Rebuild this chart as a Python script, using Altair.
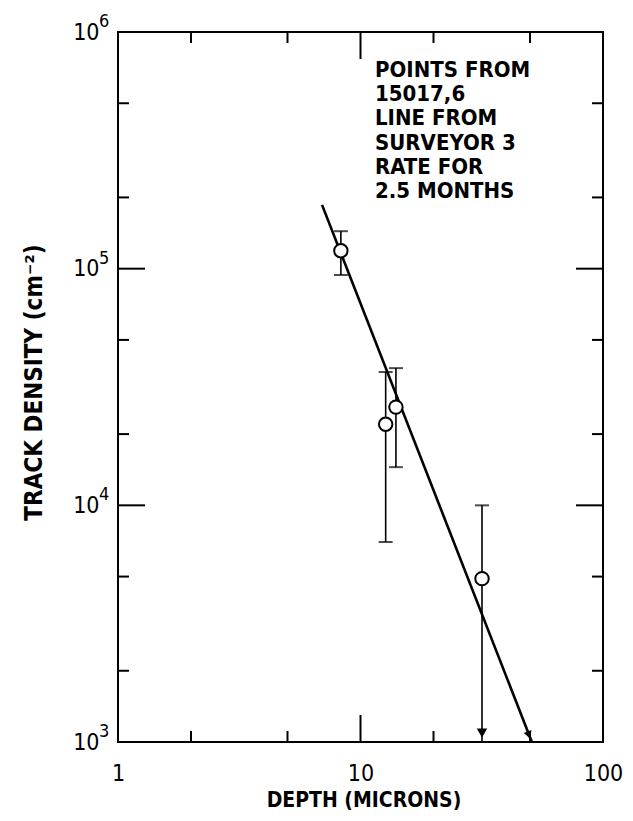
import altair as alt
import pandas as pd

# ---- data ----
depth = [8.3, 12.7, 14.0, 31.7]
density = [1.19e5, 2.2e4, 2.6e4, 4.9e3]
err_hi = [1.44e5, 3.66e4, 3.8e4, 1.0e4]
err_lo = [9.4e4, 7.0e3, 1.45e4, 1.0e3]
upper_limit = [False, False, False, True]

line_depth = [6.94, 50.9]
line_density = [1.86e5, 1.0e3]

x_major = [1, 10, 100]
x_minor = [2, 5, 20, 50]
y_major = [1e3, 1e4, 1e5, 1e6]
y_minor = [2e3, 5e3, 2e4, 5e4, 2e5, 5e5]
y_exponents = ["3", "4", "5", "6"]

note_lines = ["POINTS FROM", "15017,6", "LINE FROM", "SURVEYOR 3", "RATE FOR", "2.5 MONTHS"]

# ---- layout / style ----
W, H = 485, 710
FONT = "DejaVu Sans Condensed, Liberation Sans Narrow, DejaVu Sans"
MAJ, MIN = 27, 11

xs = alt.Scale(type="log", domain=[1, 100], nice=False)
ys = alt.Scale(type="log", domain=[1e3, 1e6], nice=False)

xaxis = alt.Axis(
    values=x_major, labelExpr="format(datum.value, 'd')", ticks=False, tickSize=0,
    domain=False, grid=False, labelPadding=20, labelFontSize=23, labelFont=FONT,
    labelColor="black", labelFlush=False, labelOverlap=False, labelBaseline="top",
    title="DEPTH (MICRONS)", titleFont=FONT, titleFontSize=21, titleFontWeight="bold",
    titleColor="black", titleX=W / 2 + 3, titleY=58, titleBaseline="middle", titleAlign="center",
)
yaxis = alt.Axis(
    values=y_major, labelExpr="'10'", ticks=False, tickSize=0, domain=False, grid=False,
    labelPadding=19, labelFontSize=23, labelFont=FONT, labelColor="black",
    labelFlush=False, labelOverlap=False, labelBaseline="middle",
    title="TRACK DENSITY (cm⁻²)", titleFont=FONT, titleFontSize=24, titleFontWeight="bold",
    titleColor="black", titleAngle=270, titleX=-84, titleY=350,
    titleBaseline="middle", titleAlign="center",
)


def X(field):
    return alt.X(field, scale=xs, axis=xaxis)


def Y(field):
    return alt.Y(field, scale=ys, axis=yaxis)


pts = pd.DataFrame({"depth": depth, "density": density, "hi": err_hi, "lo": err_lo,
                    "limit": upper_limit})

errbars = alt.Chart(pts).mark_rule(color="black", strokeWidth=1.6).encode(
    x=X("depth:Q"), y=Y("lo:Q"), y2="hi:Q",
)

caps_df = pd.DataFrame({
    "depth": depth + [d for d, l in zip(depth, upper_limit) if not l],
    "density": err_hi + [v for v, l in zip(err_lo, upper_limit) if not l],
})
caps = alt.Chart(caps_df).mark_tick(orient="horizontal", color="black", thickness=2, size=14).encode(
    x=X("depth:Q"), y=Y("density:Q"),
)

fit = alt.Chart(pd.DataFrame({"depth": line_depth, "density": line_density})).mark_line(
    color="black", strokeWidth=2.6).encode(x=X("depth:Q"), y=Y("density:Q"))

limit_df = pd.DataFrame({"depth": [d for d, l in zip(depth, upper_limit) if l],
                         "density": [v for v, l in zip(err_lo, upper_limit) if l]})
limit_arrow = alt.Chart(limit_df).mark_point(
    shape="triangle-down", filled=True, color="black", size=110, opacity=1, yOffset=-9).encode(
    x=X("depth:Q"), y=Y("density:Q"))

fit_end = alt.Chart(pd.DataFrame({"depth": line_depth[-1:], "density": line_density[-1:]})).mark_point(
    shape="triangle-down", filled=True, color="black", size=70, opacity=1,
    angle=339, yOffset=-7, xOffset=-3).encode(x=X("depth:Q"), y=Y("density:Q"))

points = alt.Chart(pts).mark_point(
    shape="circle", filled=True, fill="white", stroke="black", strokeWidth=2,
    size=180, opacity=1).encode(x=X("depth:Q"), y=Y("density:Q"))


def xticks(vals, length):
    df = pd.DataFrame({"depth": vals})
    base = alt.Chart(df).mark_rule(color="black", strokeWidth=2)
    bottom = base.encode(x=X("depth:Q"), y=alt.value(H), y2=alt.value(H - length))
    top = base.encode(x=X("depth:Q"), y=alt.value(0), y2=alt.value(length))
    return [bottom, top]


def yticks(vals, length):
    df = pd.DataFrame({"density": vals})
    base = alt.Chart(df).mark_rule(color="black", strokeWidth=2)
    left = base.encode(y=Y("density:Q"), x=alt.value(0), x2=alt.value(length))
    right = base.encode(y=Y("density:Q"), x=alt.value(W), x2=alt.value(W - length))
    return [left, right]


tick_layers = (xticks(x_major, MAJ) + xticks(x_minor, MIN)
               + yticks(y_major, MAJ) + yticks(y_minor, MIN))

expo = alt.Chart(pd.DataFrame({"density": y_major, "e": y_exponents})).mark_text(
    align="left", baseline="middle", dy=-10, fontSize=18, font=FONT, color="black").encode(
    y=Y("density:Q"), x=alt.value(-19), text="e:N",
)

note = alt.Chart(pd.DataFrame({"a": [0]})).mark_text(
    align="left", baseline="alphabetic", fontSize=22, fontWeight="bold", font=FONT,
    lineHeight=24.2, color="black", text=note_lines).encode(
    x=alt.value(257), y=alt.value(45),
)

chart = alt.layer(
    errbars, caps, fit, limit_arrow, fit_end, points, *tick_layers, expo, note
).properties(
    width=W, height=H,
    autosize=alt.AutoSizeParams(type="none"),
    padding={"left": 110, "top": 24, "right": 22, "bottom": 71},
    background="white",
).configure_view(stroke="black", strokeWidth=2)

chart.save("out.html", embed_options={"renderer": "svg", "actions": False})
